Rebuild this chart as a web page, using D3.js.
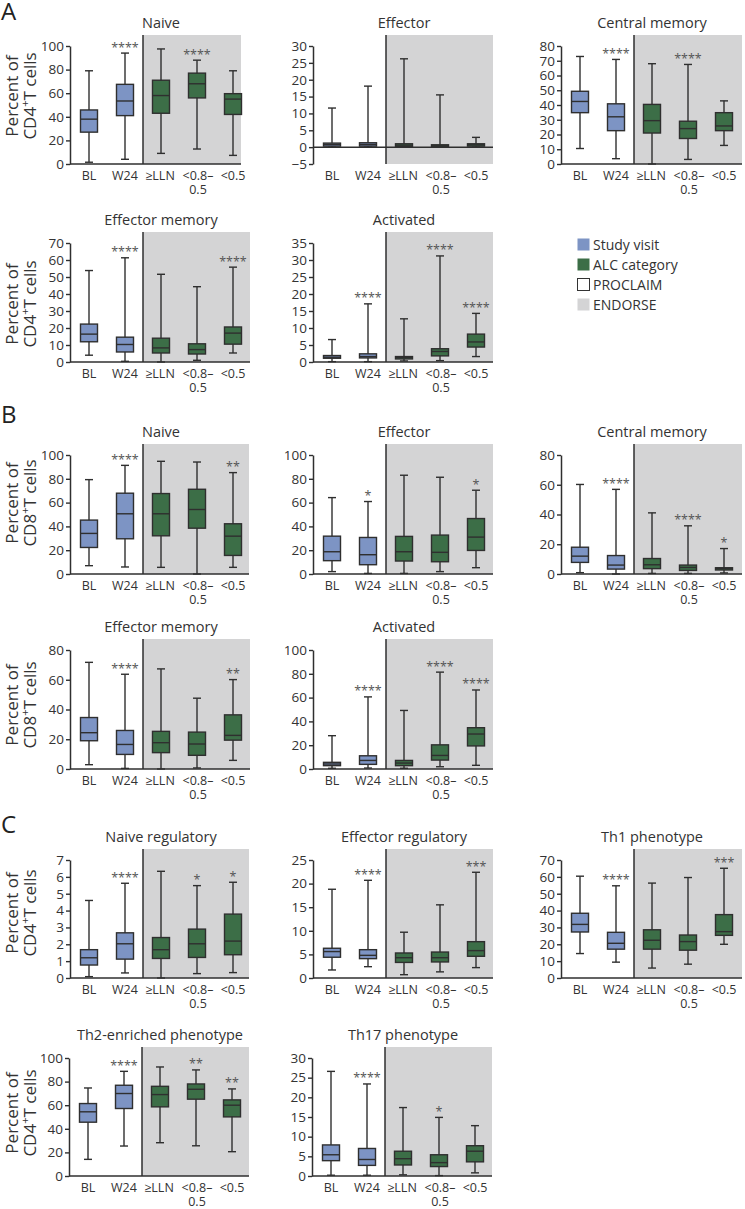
<!DOCTYPE html>
<html><head><meta charset="utf-8">
<script src="https://cdn.jsdelivr.net/npm/d3@7"></script>
<style>
body{margin:0;background:#fff}
svg{display:block;font-family:"Open Sans","Noto Sans",sans-serif}
</style>
</head><body>
<svg id="chart" width="745" height="1209"></svg>
<script>
// ---------------- DATA ----------------
const categories = ["BL", "W24", "≥LLN", "<0.8–|0.5", "<0.5"];
const groupKind = ["visit", "visit", "alc", "alc", "alc"];
// each row: [whisker low, Q1, median, Q3, whisker high]
const cd4Naive      = [[1.5,27,38,45.8,79],[4,41,53.4,67.5,94],[9,43,58,71,97.5],[12.7,56,68,77,88],[7.3,42,55,59.6,79]];
const cd4Effector   = [[0,0.3,0.8,1.2,11.6],[0,0.3,0.8,1.3,18.1],[0,0.2,0.6,1.0,26.2],[0,0.1,0.4,0.7,15.5],[0,0.3,0.7,1.0,2.9]];
const cd4CentralMem = [[10.5,34.8,42.4,49.3,72.9],[3.6,22.6,32,40.8,70.9],[0,21,29.4,40.4,68],[3.1,17.3,24,29,67.5],[12.6,22.6,25.8,34.8,42.8]];
const cd4EffMem     = [[4,11.9,16.4,22.3,53.8],[0.4,5.9,10.3,14.6,61.3],[0,5.3,8.3,14,51.6],[1,4.7,7.3,10.7,44.3],[5.3,10.5,17,20.6,55.8]];
const cd4Activated  = [[0.1,1.1,1.4,1.9,6.6],[0.1,1.2,1.6,2.4,17.1],[0.3,0.9,1.3,1.6,12.7],[0.4,1.8,3.1,3.9,31.2],[1.6,4.4,5.9,8.2,14.3]];
const cd8Naive      = [[7,22.3,34.1,45.3,79.3],[5.9,29.6,50.6,67.9,91.3],[5.6,32.1,50.6,67.6,94.7],[0,38.5,54.2,71.2,94.1],[5.6,15.6,31.8,42.2,85.2]];
const cd8Effector   = [[2,11.2,18.7,31.8,64.2],[0.5,7.8,16.2,30.7,60.9],[0.5,10.9,18.7,31.6,83],[2,10.3,18.2,32.7,81.3],[5.3,19.8,31,46.6,70.4]];
const cd8CentralMem = [[0.9,7.8,12,18,60.2],[0,3.3,6,12.4,56.9],[0.4,3.6,6.2,10.4,41.1],[0.4,2.4,4.4,6,32.4],[0.7,2.7,3.6,4.2,17.1]];
const cd8EffMem     = [[2.9,19,24.4,34.6,71.7],[0.4,9.8,16.5,25.9,63.7],[0,11,17.7,25.3,67.3],[0.7,9.2,16.8,24.8,47.6],[5.8,19.4,22.6,36.4,60.1]];
const cd8Activated  = [[0.6,2.8,4.2,5.6,28],[0.8,3.9,7.2,11.1,60.6],[0.6,2.8,5,7.2,49.2],[1.9,7.5,11.4,20.3,81.4],[3.1,19.4,29.4,34.7,66.4]];
const naiveReg      = [[0.08,0.77,1.2,1.68,4.6],[0.3,1.12,2.03,2.68,5.62],[0,1.16,1.68,2.4,6.33],[0.26,1.22,2.03,2.9,5.48],[0.32,1.38,2.19,3.79,5.68]];
const effectorReg   = [[1.7,4.4,5.6,6.3,18.8],[2.4,4.1,4.8,6,20.7],[0.7,3.3,4.3,5.3,9.7],[1.3,3.4,4.3,5.5,15.5],[2.2,4.6,5.8,7.7,22.4]];
const th1           = [[14.5,27.3,31.8,38.4,60.4],[9.4,17.1,20.6,27.1,54.7],[5.9,17.1,22.4,28.6,56.3],[8.2,16.5,21.6,25.5,59.6],[20,25.3,27.5,37.6,65.1]];
const th2           = [[14.1,45.6,54.4,61.4,74.6],[25.4,57.2,69.9,76.9,88.7],[28.2,58.6,69,76,92.4],[25.6,65.1,73.5,78,89.9],[20.6,50.1,60,64.5,73.8]];
const th17          = [[0.2,3.9,5.4,7.9,26.6],[0.2,2.7,4.2,7.0,23.4],[0.3,2.8,4.4,6.3,17.4],[0.1,2.4,3.4,5.4,14.9],[0.8,3.6,6.3,7.7,12.8]];

// significance marks per category
const starsCd4Naive = ["", "****", "", "****", ""];
const starsCd4Eff   = ["", "", "", "", ""];
const starsCd4CM    = ["", "****", "", "****", ""];
const starsCd4EM    = ["", "****", "", "", "****"];
const starsCd4Act   = ["", "****", "", "****", "****"];
const starsCd8Naive = ["", "****", "", "", "**"];
const starsCd8Eff   = ["", "*", "", "", "*"];
const starsCd8CM    = ["", "****", "", "****", "*"];
const starsCd8EM    = ["", "****", "", "", "**"];
const starsCd8Act   = ["", "****", "", "****", "****"];
const starsNReg     = ["", "****", "", "*", "*"];
const starsEReg     = ["", "****", "", "", "***"];
const starsTh1      = ["", "****", "", "", "***"];
const starsTh2      = ["", "****", "", "**", "**"];
const starsTh17     = ["", "****", "", "*", ""];

// tick labels
const ticks0to100by20 = [0, 20, 40, 60, 80, 100];
const ticksCd4Eff  = [-5, 0, 5, 10, 15, 20, 25, 30];
const ticks0to80by10 = [0, 10, 20, 30, 40, 50, 60, 70, 80];
const ticks0to70by10 = [0, 10, 20, 30, 40, 50, 60, 70];
const ticks0to35by5  = [0, 5, 10, 15, 20, 25, 30, 35];
const ticks0to80by20 = [0, 20, 40, 60, 80];
const ticks0to7      = [0, 1, 2, 3, 4, 5, 6, 7];
const ticks0to25by5  = [0, 5, 10, 15, 20, 25];
const ticks0to30by5  = [0, 5, 10, 15, 20, 25, 30];

const panelTitles = ["Naive", "Effector", "Central memory", "Effector memory", "Activated",
  "Naive", "Effector", "Central memory", "Effector memory", "Activated",
  "Naive regulatory", "Effector regulatory", "Th1 phenotype", "Th2-enriched phenotype", "Th17 phenotype"];
const rowLabels = ["CD4", "CD4", "CD8", "CD8", "CD4", "CD4"];
const sectionLetters = ["A", "B", "C"];
const legendLabels = ["Study visit", "ALC category", "PROCLAIM", "ENDORSE"];

// ---------------- LAYOUT ----------------
const colX = [70, 313, 561];
const rowTop = [46, 243, 455, 650, 860, 1058];
const rowBot = [164, 362, 574, 769, 978, 1176];
const labelCenter = [96, 304, 503, 705, 913, 1113];
const letterY = [20, 423, 833];
const C = {blue: "#7d94c4", green: "#3c6e47", gray: "#d4d4d5", ink: "#2f2f2f", text: "#333", star: "#555"};

const panels = [
  {stats: cd4Naive, stars: starsCd4Naive, ticks: ticks0to100by20, row: 0, col: 0, grayEnd: 171},
  {stats: cd4Effector, stars: starsCd4Eff, ticks: ticksCd4Eff, row: 0, col: 1, grayEnd: 180},
  {stats: cd4CentralMem, stars: starsCd4CM, ticks: ticks0to80by10, row: 0, col: 2, grayEnd: 181},
  {stats: cd4EffMem, stars: starsCd4EM, ticks: ticks0to70by10, row: 1, col: 0, grayEnd: 180},
  {stats: cd4Activated, stars: starsCd4Act, ticks: ticks0to35by5, row: 1, col: 1, grayEnd: 180},
  {stats: cd8Naive, stars: starsCd8Naive, ticks: ticks0to100by20, row: 2, col: 0, grayEnd: 179},
  {stats: cd8Effector, stars: starsCd8Eff, ticks: ticks0to100by20, row: 2, col: 1, grayEnd: 180},
  {stats: cd8CentralMem, stars: starsCd8CM, ticks: ticks0to80by20, row: 2, col: 2, grayEnd: 181},
  {stats: cd8EffMem, stars: starsCd8EM, ticks: ticks0to80by20, row: 3, col: 0, grayEnd: 180},
  {stats: cd8Activated, stars: starsCd8Act, ticks: ticks0to100by20, row: 3, col: 1, grayEnd: 180},
  {stats: naiveReg, stars: starsNReg, ticks: ticks0to7, row: 4, col: 0, grayEnd: 179},
  {stats: effectorReg, stars: starsEReg, ticks: ticks0to25by5, row: 4, col: 1, grayEnd: 180},
  {stats: th1, stars: starsTh1, ticks: ticks0to70by10, row: 4, col: 2, grayEnd: 181},
  {stats: th2, stars: starsTh2, ticks: ticks0to100by20, row: 5, col: 0, grayEnd: 180},
  {stats: th17, stars: starsTh17, ticks: ticks0to30by5, row: 5, col: 1, grayEnd: 180}
];

const svg = d3.select("#chart");

panels.forEach((p, pi) => {
  const ax = colX[p.col] + (p.row === 5 ? -1 : 0);
  const top = rowTop[p.row], bot = rowBot[p.row];
  const y = d3.scaleLinear().domain(d3.extent(p.ticks)).range([bot, top]);
  const x = d3.scalePoint().domain(d3.range(categories.length)).range([ax + 19, ax + 163]);
  const g = svg.append("g");
  const grayX = (x(1) + x(2)) / 2;
  // ENDORSE background
  g.append("rect").attr("x", grayX).attr("y", top - 11)
    .attr("width", ax + p.grayEnd - grayX).attr("height", bot - top + 11)
    .attr("fill", C.gray);
  g.append("line").attr("x1", grayX).attr("x2", grayX).attr("y1", top - 11).attr("y2", bot)
    .attr("stroke", C.ink).attr("stroke-width", 1.5);
  // title
  g.append("text").attr("x", ax + 91).attr("y", top - 18).attr("text-anchor", "middle")
    .attr("font-size", 14.5).attr("fill", C.text).text(panelTitles[pi]);
  // boxes
  const bw = 17, cw = 8;
  p.stats.forEach((s, i) => {
    const cx = x(i);
    const fill = groupKind[i] === "visit" ? C.blue : C.green;
    const b = g.append("g").attr("stroke", C.ink).attr("stroke-width", 1.4);
    b.append("line").attr("x1", cx).attr("x2", cx).attr("y1", y(s[0])).attr("y2", y(s[4]));
    b.append("line").attr("x1", cx - cw / 2).attr("x2", cx + cw / 2).attr("y1", y(s[0])).attr("y2", y(s[0]));
    b.append("line").attr("x1", cx - cw / 2).attr("x2", cx + cw / 2).attr("y1", y(s[4])).attr("y2", y(s[4]));
    b.append("rect").attr("x", cx - bw / 2).attr("y", y(s[3])).attr("width", bw)
      .attr("height", Math.max(1, y(s[1]) - y(s[3]))).attr("fill", fill);
    b.append("line").attr("x1", cx - bw / 2).attr("x2", cx + bw / 2).attr("y1", y(s[2])).attr("y2", y(s[2]));
    if (p.stars[i]) {
      g.append("text").attr("x", cx).attr("y", y(s[4]) - 1.5).attr("text-anchor", "middle")
        .attr("font-size", 12.5).attr("fill", C.star).text(p.stars[i]);
    }
  });
  // y axis
  const yAxis = g.append("g").attr("transform", `translate(${ax},0)`)
    .call(d3.axisLeft(y).tickValues(p.ticks).tickSize(4).tickSizeOuter(0).tickPadding(2).tickFormat(d3.format("d")));
  yAxis.select(".domain").attr("stroke", C.ink).attr("stroke-width", 1.5);
  yAxis.selectAll(".tick line").attr("stroke", C.ink).attr("stroke-width", 1.4);
  yAxis.selectAll(".tick text").attr("font-size", 13.5).attr("fill", C.text).attr("font-family", '"Open Sans",sans-serif');
  // x axis line at zero
  g.append("line").attr("x1", ax).attr("x2", ax + p.grayEnd).attr("y1", y(0)).attr("y2", y(0))
    .attr("stroke", C.ink).attr("stroke-width", 1.5);
  // category labels
  categories.forEach((c, i) => {
    const parts = c.split("|");
    parts.forEach((pt, k) => {
      g.append("text").attr("x", x(i) + (i === 2 ? -1 : i === 3 ? 1 : 0)).attr("y", bot + 16 + k * 14)
        .attr("text-anchor", "middle").attr("font-size", 12.5).attr("fill", C.text).text(pt);
    });
  });
});

// y axis titles
rowLabels.forEach((lab, r) => {
  const t = svg.append("text").attr("transform", `translate(0,${labelCenter[r]}) rotate(-90)`)
    .attr("text-anchor", "middle").attr("font-size", 17).attr("fill", C.text);
  t.append("tspan").attr("x", 0).attr("y", 18).text("Percent of");
  const t2 = svg.append("text").attr("transform", `translate(0,${labelCenter[r]}) rotate(-90)`)
    .attr("text-anchor", "middle").attr("font-size", 17).attr("fill", C.text);
  t2.append("tspan").attr("x", 0).attr("y", 35.5).text(lab);
  t2.append("tspan").attr("font-size", 11).attr("dy", -7).text("+");
  t2.append("tspan").attr("dy", 7).text("T cells");
});

// section letters
sectionLetters.forEach((L, i) => {
  svg.append("text").attr("x", 1).attr("y", letterY[i]).attr("font-size", 24).attr("fill", "#222").text(L);
});

// legend
const legFill = [C.blue, C.green, "#fff", C.gray];
const legStroke = ["none", "none", "#333", "none"];
const lg = svg.append("g").attr("transform", "translate(577,238)");
legendLabels.forEach((l, i) => {
  lg.append("rect").attr("x", 0.5).attr("y", i * 20 + 0.5).attr("width", 12).attr("height", 12)
    .attr("fill", legFill[i]).attr("stroke", legStroke[i]).attr("stroke-width", 1);
  lg.append("text").attr("x", 16).attr("y", i * 20 + 11.5).attr("font-size", 14).attr("fill", C.text).text(l);
});
</script>
</body></html>
